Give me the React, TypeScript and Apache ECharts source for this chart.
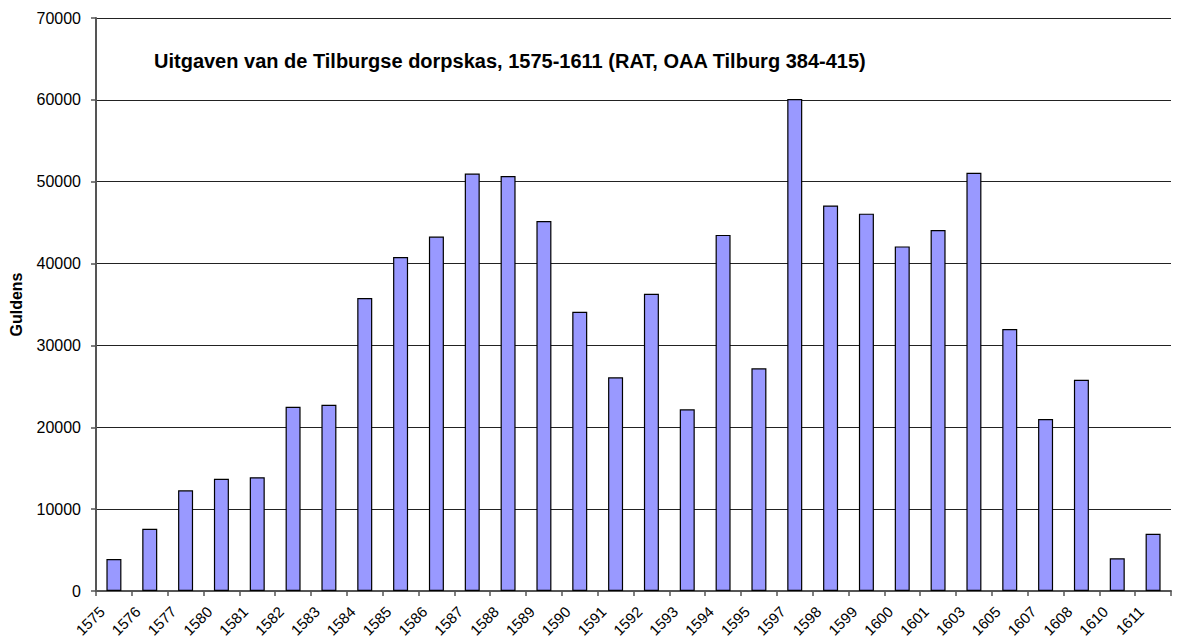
import React, { useEffect, useRef } from "react";
import * as echarts from "echarts";

const years = ["1575","1576","1577","1580","1581","1582","1583","1584","1585","1586","1587","1588","1589","1590","1591","1592","1593","1594","1595","1597","1598","1599","1600","1601","1603","1605","1607","1608","1610","1611"];
const guldens = [3900,7600,12300,13700,13900,22500,22750,35800,40800,43300,51000,50700,45200,34100,26100,36300,22200,43500,27200,60100,47100,46100,42100,44100,51100,32000,21000,25800,4000,7000];
const titleText = "Uitgaven van de Tilburgse dorpskas, 1575-1611 (RAT, OAA Tilburg 384-415)";
const yName = "Guldens";

export default function App() {
  const ref = useRef<HTMLDivElement>(null);
  useEffect(() => {
    const chart = echarts.init(ref.current!, null, { renderer: "svg" });
    chart.setOption({
      animation: false,
      backgroundColor: "#fff",
      textStyle: { fontFamily: "Liberation Sans, Arial, sans-serif" },
      title: {
        text: titleText,
        left: 149,
        top: 46,
        textStyle: { fontSize: 20, fontWeight: "bold", color: "#000", fontFamily: "Liberation Sans, Arial, sans-serif" },
      },
      grid: { left: 96, right: 7, top: 18, bottom: 50, containLabel: false, outerBoundsMode: "none" },
      xAxis: {
        type: "category",
        data: years,
        boundaryGap: true,
        axisLine: { lineStyle: { color: "#555", width: 2 } },
        axisTick: { show: true, length: 5, alignWithLabel: false, lineStyle: { color: "#555", width: 1.5 } },
        axisLabel: { interval: 0, rotate: 45, fontSize: 15, color: "#000", margin: 6, padding: [0, 17, 0, 0] },
      },
      yAxis: {
        type: "value",
        min: 0,
        max: 70000,
        interval: 10000,
        name: yName,
        nameLocation: "middle",
        nameGap: 72,
        nameTextStyle: { fontSize: 16, fontWeight: "bold", color: "#000" },
        axisLine: { show: true, lineStyle: { color: "#555", width: 2 } },
        axisTick: { show: true, length: 5, lineStyle: { color: "#555", width: 1.5 } },
        axisLabel: { fontSize: 16, color: "#000", margin: 15, formatter: (v: number) => String(v) },
        splitLine: { show: true, lineStyle: { color: "#222", width: 1 } },
      },
      series: [
        {
          type: "bar",
          data: guldens,
          barWidth: 15,
          itemStyle: { color: "#9999FF", borderColor: "#000", borderWidth: 1.2 },
        },
      ],
    });
    return () => chart.dispose();
  }, []);
  return <div ref={ref} style={{ position: "absolute", left: 0, top: 0, width: 1178, height: 641 }} />;
}
